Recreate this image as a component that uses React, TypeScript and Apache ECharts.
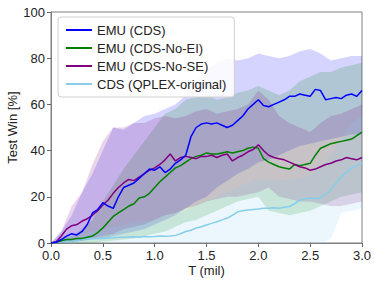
import React, { useEffect, useRef } from "react";
import * as echarts from "echarts";

// x grid for lines (T in millions)
const T = [0, 0.05, 0.1, 0.15, 0.2, 0.25, 0.3, 0.35, 0.4, 0.45, 0.5, 0.55, 0.6, 0.65, 0.7, 0.75, 0.8, 0.85, 0.9, 0.95,
  1.0, 1.05, 1.1, 1.15, 1.2, 1.25, 1.3, 1.35, 1.4, 1.45, 1.5, 1.55, 1.6, 1.65, 1.7, 1.75, 1.8, 1.85, 1.9, 1.95,
  2.0, 2.05, 2.1, 2.15, 2.2, 2.25, 2.3, 2.35, 2.4, 2.45, 2.5, 2.55, 2.6, 2.65, 2.7, 2.75, 2.8, 2.85, 2.9, 2.95, 3.0];

const emuCDS = [0, 0.3, 1.5, 3, 4, 3.5, 5, 8, 13, 14.5, 17.5, 16, 15, 20, 24, 25, 26, 28, 30, 32,
  31.5, 33, 30.5, 32, 34.5, 36, 38, 46, 50, 51.5, 52, 51.5, 52, 51, 50, 51, 53, 55, 58, 60,
  62, 59.5, 59, 60, 61, 62, 63.5, 63.5, 64.5, 64, 63.5, 66.5, 66, 62, 62.5, 63, 62.5, 64, 64.5, 63.5, 66];

const emuNoEI = [0, 0.3, 1, 1.5, 1.5, 2, 2, 2.5, 3, 4.5, 6.5, 9, 11.5, 13, 14.5, 16, 17, 19.5, 20, 21.5,
  24, 26.5, 28.5, 30.5, 32.5, 33.5, 35, 36.5, 37.5, 38, 39, 38.5, 38.5, 39, 39.5, 39, 39.5, 40, 41, 41.5,
  41, 36.5, 35, 34, 33, 32.5, 32, 34, 33.5, 34, 34.5, 38, 41, 42, 43, 43.5, 44, 44.5, 45, 46.5, 48];

const emuNoSE = [0, 0.5, 3, 6, 7.5, 8, 9.5, 10.5, 12, 14, 16.5, 18.5, 21.5, 24, 26, 27.5, 27, 28.5, 30, 31.5,
  32.5, 34, 36, 38.5, 35.5, 37, 37.5, 37, 36.5, 37.5, 37.5, 38, 37, 38, 38.5, 35.5, 37, 38, 39.5, 40.5,
  42.5, 40, 38, 37, 36.5, 36, 35, 34, 33, 32.5, 31.5, 32, 33, 34, 34.5, 35.5, 36, 37, 36.5, 36, 37];

const cdsQplex = [0, 0.3, 0.5, 0.5, 0.8, 1, 1.5, 1.8, 2, 2, 2, 2.2, 2.3, 2.5, 2.5, 2.6, 2.7, 2.5, 2.8, 2.7,
  2.8, 3, 2.9, 3, 3.3, 4, 5, 5.5, 6.5, 7, 7.8, 8.5, 9.2, 10, 10.8, 12, 13.5, 14, 14.3, 14.5,
  14.7, 15, 15, 15.3, 15, 15.5, 15.8, 17, 18.6, 19, 19.5, 19.3, 19.5, 21, 23, 26, 28.7, 30.5, 32.5, 33.5, 34.6];

// x grid for the shaded bands
const TB = [0, 0.1, 0.2, 0.3, 0.4, 0.5, 0.6, 0.7, 0.8, 0.9, 1.0, 1.1, 1.2, 1.3, 1.4, 1.5, 1.6, 1.7, 1.8, 1.9,
  2.0, 2.1, 2.2, 2.3, 2.4, 2.5, 2.6, 2.7, 2.8, 2.9, 3.0];

const emuCDSHi = [0, 5, 12, 22, 30, 40, 50, 49, 52, 55, 56, 58, 60, 64, 70, 75, 78, 80, 79, 80,
  82, 81, 80, 81, 83, 84, 82, 79, 80, 81, 81];
const emuCDSLo = [0, 0, 0.5, 1, 1.5, 2, 3, 4, 5, 6, 8, 10, 12, 15, 18, 20, 24, 27, 30, 32,
  35, 36, 38, 40, 42, 43, 44, 45, 46, 47, 47];

const emuNoEIHi = [0, 2, 3, 6, 10, 18, 25, 32, 38, 44, 50, 56, 58, 62, 63, 64, 62, 63, 65, 66,
  68, 66, 64, 66, 70, 72, 74, 74, 76, 77, 78];
const emuNoEILo = [0, 0, 0, 0, 0, 0.5, 1, 1.5, 2, 3, 4, 5, 7, 9, 10, 12, 14, 16, 18, 19,
  20, 14, 13, 12, 13, 14, 16, 18, 20, 21, 22];

const emuNoSEHi = [0, 5, 16, 22, 34, 44, 50, 50, 52, 52, 54, 55, 54, 55, 57, 58, 56, 57, 58, 60,
  66, 62, 55, 52, 50, 48, 52, 55, 56, 58, 60];
const emuNoSELo = [0, 0, 0.5, 1, 2, 3, 4, 6, 7, 8, 10, 12, 13, 15, 16, 18, 19, 20, 20, 21,
  22, 24, 20, 19, 18, 18, 17, 16, 16, 17, 18];

const cdsQplexHi = [0, 2, 3, 4, 5, 6, 7, 8, 9, 9.5, 10, 11, 12, 14, 16, 18, 20, 22, 24, 26,
  28, 27, 27, 27.5, 28, 30, 33, 38, 45, 52, 55];
const cdsQplexLo = [0, 0, 0, 0, 0, 0, 0, 0, 0, 0, 0, 0, 0, 0, 0, 0, 0, 0, 0, 0,
  0, 0, 0, 0, 0, 0, 0, 2, 13, 14, 15];

const X_TICKS = [0, 0.5, 1.0, 1.5, 2.0, 2.5, 3.0];
const Y_TICKS = [0, 20, 40, 60, 80, 100];

const NAMES = ["EMU (CDS)", "EMU (CDS-No-EI)", "EMU (CDS-No-SE)", "CDS (QPLEX-original)"];
const COLORS = ["#0000ff", "#008000", "#800080", "#87ceeb"];
const FONT = "'Liberation Sans', Arial, Helvetica, sans-serif";

function bandSeries(color: string, lo: number[], hi: number[]) {
  return {
    type: "custom",
    silent: true,
    z: 1,
    data: TB.map((t, i) => [t, lo[i], hi[i]]),
    encode: { x: 0, y: [1, 2] },
    renderItem: (params: any, api: any) => {
      if (params.dataIndex !== 0) return null;
      const pts: number[][] = [];
      for (let i = 0; i < TB.length; i++) pts.push(api.coord([TB[i], hi[i]]));
      for (let i = TB.length - 1; i >= 0; i--) pts.push(api.coord([TB[i], lo[i]]));
      return {
        type: "polygon",
        shape: { points: pts },
        style: { fill: color, opacity: 0.17 },
      };
    },
  };
}

function lineSeries(name: string, color: string, vals: number[]) {
  return {
    type: "line",
    name,
    z: 3,
    data: T.map((t, i) => [t, vals[i]]),
    showSymbol: false,
    symbol: "none",
    lineStyle: { color, width: 1.5 },
    itemStyle: { color },
  };
}

export default function App() {
  const ref = useRef<HTMLDivElement>(null);
  useEffect(() => {
    if (!ref.current) return;
    const chart = echarts.init(ref.current, null, { renderer: "svg" });
    chart.setOption({
      animation: false,
      textStyle: { fontFamily: FONT },
      grid: {
        left: 51, right: 12, top: 12, bottom: 42,
        show: true, borderColor: "#808080", borderWidth: 1,
        containLabel: false, outerBoundsMode: "none",
      },
      legend: {
        data: NAMES,
        orient: "vertical",
        left: 58,
        top: 17,
        icon: "rect",
        itemWidth: 26,
        itemHeight: 2,
        itemGap: 4,
        padding: [6, 8, 6, 8],
        backgroundColor: "rgba(255,255,255,0.85)",
        borderColor: "#d0d0d0",
        borderWidth: 1,
        borderRadius: 3,
        textStyle: { fontSize: 13, color: "#222", lineHeight: 14, fontFamily: FONT },
        itemTextGap: 8,
      },
      xAxis: {
        type: "value",
        min: 0,
        max: 3,
        interval: 0.5,
        name: "T (mil)",
        nameLocation: "middle",
        nameGap: 21,
        nameMoveOverlap: false,
        nameTextStyle: { fontSize: 13, color: "#222", fontFamily: FONT },
        axisLine: { show: true, lineStyle: { color: "#808080" } },
        axisTick: { show: true, length: 4, lineStyle: { color: "#666" } },
        axisLabel: {
          fontSize: 13,
          color: "#222",
          margin: 6,
          fontFamily: FONT,
          formatter: (v: number) => (X_TICKS.indexOf(v) >= 0 ? v.toFixed(1) : ""),
        },
        splitLine: { show: false },
      },
      yAxis: {
        type: "value",
        min: 0,
        max: 100,
        interval: 20,
        name: "Test Win [%]",
        nameLocation: "middle",
        nameGap: 32,
        nameMoveOverlap: false,
        nameTextStyle: { fontSize: 13, color: "#222", fontFamily: FONT },
        axisLine: { show: true, lineStyle: { color: "#808080" } },
        axisTick: { show: true, length: 4, lineStyle: { color: "#666" } },
        axisLabel: {
          fontSize: 13,
          color: "#222",
          margin: 6,
          fontFamily: FONT,
          formatter: (v: number) => (Y_TICKS.indexOf(v) >= 0 ? String(v) : ""),
        },
        splitLine: { show: false },
      },
      series: [
        bandSeries(COLORS[0], emuCDSLo, emuCDSHi),
        bandSeries(COLORS[1], emuNoEILo, emuNoEIHi),
        bandSeries(COLORS[2], emuNoSELo, emuNoSEHi),
        bandSeries(COLORS[3], cdsQplexLo, cdsQplexHi),
        lineSeries(NAMES[3], COLORS[3], cdsQplex),
        lineSeries(NAMES[1], COLORS[1], emuNoEI),
        lineSeries(NAMES[2], COLORS[2], emuNoSE),
        lineSeries(NAMES[0], COLORS[0], emuCDS),
      ],
    });
    return () => chart.dispose();
  }, []);
  return <div ref={ref} style={{ width: 374, height: 285, position: "absolute", left: 0, top: 0 }} />;
}
